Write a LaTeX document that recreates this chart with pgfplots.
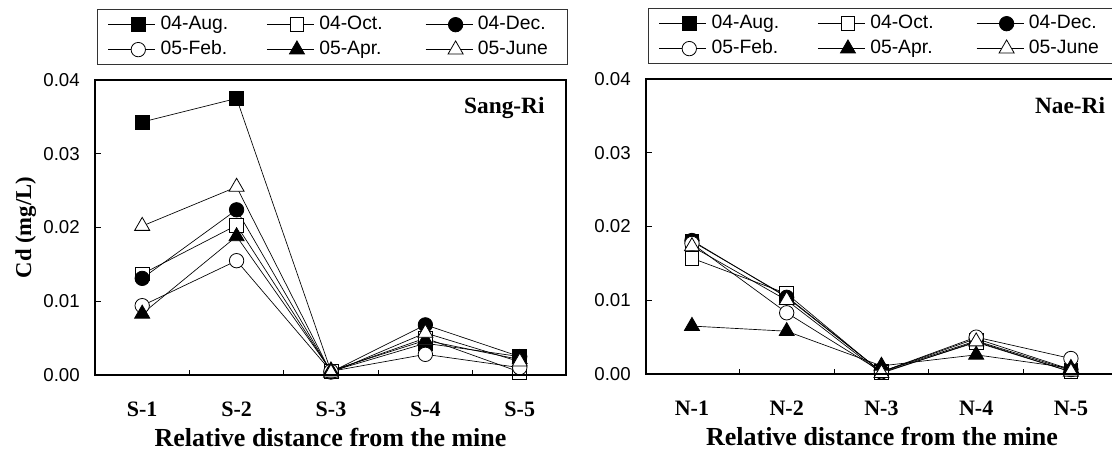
\documentclass[border=0pt]{standalone}
\usepackage{fontspec}
\setmainfont{Liberation Sans}
\newfontfamily\tnr{Liberation Serif}
\usepackage{pgfplots}
\pgfplotsset{compat=1.18}

\pgfplotsset{
  sAug/.style={black, line width=0.5pt, mark=square*, mark size=5.2pt, mark options={solid, fill=black, line width=0.6pt}},
  sOct/.style={black, line width=0.5pt, mark=square*, mark size=5.2pt, mark options={solid, fill=white, line width=0.6pt}},
  sDec/.style={black, line width=0.5pt, mark=*, mark size=5.4pt, mark options={solid, fill=black, line width=0.6pt}},
  sFeb/.style={black, line width=0.5pt, mark=*, mark size=5.4pt, mark options={solid, fill=white, line width=0.6pt}},
  sApr/.style={black, line width=0.5pt, mark=triangle*, mark size=6.5pt, mark options={solid, fill=black, line width=0.6pt}},
  sJun/.style={black, line width=0.5pt, mark=triangle*, mark size=6.5pt, mark options={solid, fill=white, line width=0.6pt}},
  common/.style={
    scale only axis,
    height=221.25pt,
    clip=false,
    ymin=0, ymax=0.04,
    ytick={0,0.01,0.02,0.03,0.04},
    scaled y ticks=false,
    /pgf/number format/assume math mode=true,
    yticklabel={\pgfmathprintnumber[fixed,fixed zerofill,precision=2]{\tick}},
    yticklabel style={font=\fontsize{14}{16}\selectfont, anchor=east, inner xsep=0pt, xshift=-11.25pt},
    xtick={1,2,3,4,5},
    minor xtick={1.5,2.5,3.5,4.5},
    major x tick style={draw=none},
    xticklabel style={font=\tnr\bfseries\fontsize{16.5}{19}\selectfont, anchor=center, yshift=-26pt},
    xlabel={Relative distance from the mine},
    xlabel style={font=\tnr\bfseries\fontsize{19.5}{22}\selectfont, at={(axis description cs:0.5,0)}, anchor=center, yshift=-47pt},
    tick align=inside,
    xtick pos=left, ytick pos=left,
    major tick length=4.5pt, minor tick length=3.75pt,
    every tick/.style={black, line width=0.8pt},
    axis line style={line width=0.8pt},
    after end axis/.code={\draw[line width=1.5pt] (rel axis cs:0,1) -- (rel axis cs:0,0) -- (rel axis cs:1,0);},
    legend columns=3,
    legend cell align=left,
    legend image code/.code={
      \path (-9.75pt,0pt) -- (0pt,0pt);
      \draw[mark repeat=2, mark phase=2, #1] plot coordinates {(0pt,0pt) (12.75pt,0pt) (25.5pt,0pt)};
    },
    legend style={at={(axis description cs:0.004,1.0508)}, anchor=south west,
      draw=black!80, line width=0.6pt, inner xsep=8pt, inner ysep=1.9pt, row sep=0pt,
      font=\fontsize{14.5}{16}\selectfont,
      nodes={text width=55pt, inner xsep=3.75pt, text height=10pt, text depth=3pt, inner ysep=2.85pt},
      /tikz/every even column/.append style={column sep=20.75pt}},
  }
}

\begin{document}
\begin{tikzpicture}
\path[use as bounding box] (-71.25pt,-68.25pt) rectangle (762.75pt,281.25pt);

\begin{axis}[common,
  width=353.25pt,
  xmin=0.5, xmax=5.49,
  xticklabels={S-1,S-2,S-3,S-4,S-5},
  ylabel={Cd (mg/L)},
  ylabel style={font=\tnr\bfseries\fontsize{17}{20}\selectfont, at={(axis description cs:-0.147,0.5)}, anchor=center},
]
\addplot[sAug] coordinates {(1,0.0343) (2,0.0375) (3,0.0005) (4,0.0043) (5,0.0025)};
\addplot[sOct] coordinates {(1,0.0137) (2,0.0203) (3,0.0005) (4,0.0050) (5,0.0004)};
\addplot[sDec] coordinates {(1,0.0131) (2,0.0224) (3,0.0004) (4,0.0068) (5,0.0025)};
\addplot[sFeb] coordinates {(1,0.0094) (2,0.0155) (3,0.0005) (4,0.0028) (5,0.0010)};
\addplot[sApr] coordinates {(1,0.0083) (2,0.0188) (3,0.0006) (4,0.0047) (5,0.0021)};
\addplot[sJun] coordinates {(1,0.0202) (2,0.0255) (3,0.0003) (4,0.0057) (5,0.0018)};
\legend{04-Aug.,04-Oct.,04-Dec.,05-Feb.,05-Apr.,05-June}
\node[anchor=north east, inner sep=0pt, font=\tnr\bfseries\fontsize{17.5}{20}\selectfont] at (rel axis cs:0.955,0.942) {Sang-Ri};
\end{axis}

\begin{axis}[common,
  at={(413.25pt,0.75pt)}, anchor=south west,
  width=354pt,
  xmin=0.515, xmax=5.497,
  xticklabels={N-1,N-2,N-3,N-4,N-5},
]
\addplot[sAug] coordinates {(1,0.0180) (2,0.0105) (3,0.0003) (4,0.0045) (5,0.0005)};
\addplot[sOct] coordinates {(1,0.0157) (2,0.0109) (3,0.0002) (4,0.0043) (5,0.0003)};
\addplot[sDec] coordinates {(1,0.0181) (2,0.0104) (3,0.0003) (4,0.0048) (5,0.0006)};
\addplot[sFeb] coordinates {(1,0.0177) (2,0.0083) (3,0.0003) (4,0.0050) (5,0.0021)};
\addplot[sApr] coordinates {(1,0.0065) (2,0.0058) (3,0.0011) (4,0.0026) (5,0.0008)};
\addplot[sJun] coordinates {(1,0.0173) (2,0.0100) (3,0.0001) (4,0.0044) (5,0.0003)};
\legend{04-Aug.,04-Oct.,04-Dec.,05-Feb.,05-Apr.,05-June}
\node[anchor=north east, inner sep=0pt, font=\tnr\bfseries\fontsize{17.5}{20}\selectfont] at (rel axis cs:0.973,0.939) {Nae-Ri};
\end{axis}
\end{tikzpicture}
\end{document}
